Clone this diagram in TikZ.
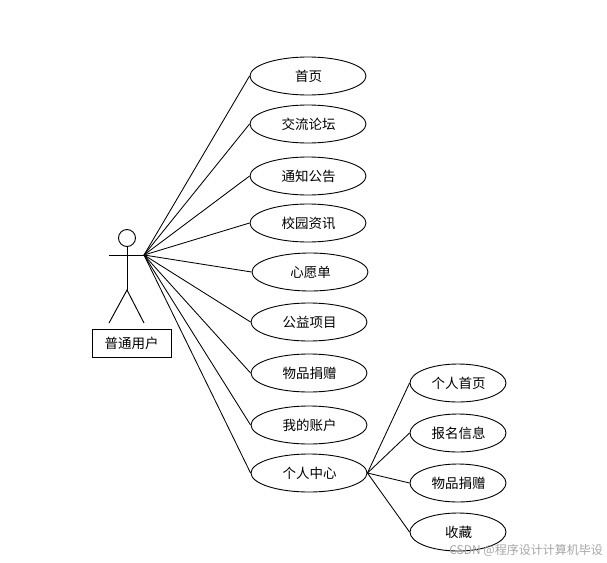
\documentclass[tikz,border=0pt]{standalone}
\usepackage{fontspec}
\usetikzlibrary{shapes.geometric}
\setmainfont{Noto Sans CJK SC}
\tikzset{
  usecase/.style={draw,ellipse,inner sep=0pt,minimum width=116pt,minimum height=38pt,font=\fontsize{13.5pt}{15pt}\selectfont,line width=0.9pt},
  usecasesm/.style={usecase,minimum width=96pt},
  link/.style={line width=0.85pt,draw=black},
  actorline/.style={line width=0.95pt,draw=black},
  namebox/.style={draw,inner sep=0pt,minimum width=79pt,minimum height=28pt,font=\fontsize{13.5pt}{15pt}\selectfont,line width=0.9pt},
  mark text/.style={text=black!35,font=\fontsize{12pt}{14pt}\selectfont,inner sep=0pt}
}
\begin{document}
\begin{tikzpicture}[x=1pt,y=-1pt]
\useasboundingbox (0,0) rectangle (607,562);
\fill[white] (0,0) rectangle (607,562);
\node[usecase] (a1) at (308,76) {\hspace{1pt}首页};
\node[usecase] (a2) at (308,124) {\hspace{1pt}交流论坛};
\node[usecase] (a3) at (308,176) {\hspace{1pt}通知公告};
\node[usecase] (a4) at (308,223) {\hspace{1pt}校园资讯};
\node[usecase] (a5) at (310,272) {\hspace{1pt}心愿单};
\node[usecase] (a6) at (309,322) {\hspace{1pt}公益项目};
\node[usecase] (a7) at (309,373) {\hspace{1pt}物品捐赠};
\node[usecase] (a8) at (309,425) {\hspace{1pt}我的账户};
\node[usecase] (a9) at (309,473) {\hspace{1pt}个人中心};
\node[usecasesm] (b1) at (458,383) {\hspace{1pt}个人首页};
\node[usecasesm] (b2) at (458,433) {\hspace{1pt}报名信息};
\node[usecasesm] (b3) at (458,483) {\hspace{1pt}物品捐赠};
\node[usecasesm] (b4) at (458,532) {\hspace{1pt}收藏};
\node[namebox] (name) at (131.5,343) {普通用户};
\node[draw,circle,inner sep=0pt,minimum size=17pt,line width=0.9pt] (head) at (127,238) {};
\coordinate (hub) at (144,255);
\coordinate (armL) at (109,255);
\coordinate (hip) at (127,290);
\coordinate (legL) at (109,323);
\coordinate (legR) at (144,323);
\draw[actorline] (armL) -- (hub);
\draw[actorline] (head.south) -- (hip);
\draw[actorline] (legL) -- (hip) -- (legR);
\foreach \n in {a1,a2,a3,a4,a5,a6,a7,a8,a9}
  \draw[link] (hub) -- (\n.west);
\foreach \n in {b1,b2,b3,b4}
  \draw[link] (a9.east) -- (\n.west);
\node[mark text,anchor=east] (wm) at (603,550) {CSDN @程序设计计算机毕设};
\end{tikzpicture}
\end{document}
